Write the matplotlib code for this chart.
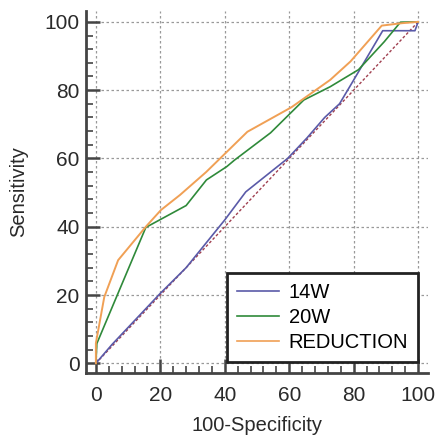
import matplotlib
matplotlib.use("Agg")
import matplotlib.pyplot as plt
from matplotlib.ticker import MultipleLocator

plt.rcParams['font.family'] = ['Liberation Sans', 'DejaVu Sans']

# ROC curves (100-Specificity, Sensitivity)
x_14w = [0, 5, 10, 20, 28, 34, 40, 46.5, 59.5, 65.5, 71, 75.6, 79.7, 89, 99, 100]
y_14w = [0, 5.5, 10.5, 20.5, 28, 35, 42, 50.2, 60, 66, 72, 76, 82.5, 97.4, 97.4, 100]

x_20w = [0, 0.3, 15.5, 28, 34.3, 40.6, 43, 54.2, 64.5, 72.7, 81.5, 89.5, 94.5, 100]
y_20w = [0, 5.8, 39.8, 46.2, 53.7, 57.6, 59.5, 67.5, 77.1, 81, 86, 94.2, 99.9, 100]

x_red = [0, 0, 2.6, 6.9, 15.5, 20.2, 26.1, 34.2, 47, 60.7, 72.7, 79, 88.7, 94.9, 100]
y_red = [0, 5.9, 19.4, 30.2, 40, 44.9, 49.3, 56, 67.8, 75, 83, 88.4, 98.9, 99.6, 100]

diag = [0, 100]

fig = plt.figure(figsize=(4.36, 4.37), dpi=100)
ax = fig.add_axes([0.197, 0.146, 0.785, 0.829])

ax.plot(diag, diag, color='#a04050', lw=1.0, ls=(0, (2, 1.5)))
ax.plot(x_14w, y_14w, color='#5a5aa8', lw=1.2, label='14W')
ax.plot(x_20w, y_20w, color='#2f8a3a', lw=1.2, label='20W')
ax.plot(x_red, y_red, color='#f0a055', lw=1.4, label='REDUCTION')

ax.set_xlim(-3.1, 103.1)
ax.set_ylim(-2.9, 103.2)
ax.xaxis.set_major_locator(MultipleLocator(20))
ax.yaxis.set_major_locator(MultipleLocator(20))
ax.xaxis.set_minor_locator(MultipleLocator(4))
ax.yaxis.set_minor_locator(MultipleLocator(4))
ax.grid(True, which='major', color='#999999', ls=(0, (2, 2)), lw=0.9)
ax.set_axisbelow(True)

for s in ['top', 'right']:
	ax.spines[s].set_visible(False)
for s in ['left', 'bottom']:
	ax.spines[s].set_linewidth(2)
	ax.spines[s].set_color('#444444')

ax.tick_params(which='major', direction='in', length=10, width=1.8, color='#444444',
	labelsize=15, labelcolor='#2a2a2a')
ax.tick_params(axis='x', which='major', pad=9)
ax.tick_params(axis='y', which='major', pad=4.5)
ax.tick_params(which='minor', direction='in', length=5, width=1.2, color='#444444')

ax.set_xlabel('100-Specificity', fontsize=14.5, color='#2a2a2a', labelpad=8)
ax.set_ylabel('Sensitivity', fontsize=14.5, color='#2a2a2a', labelpad=12)

leg = ax.legend(loc='lower right', bbox_to_anchor=(0.971, 0.030), borderaxespad=0,
	fontsize=14.5, fancybox=False, framealpha=1, edgecolor='#222222',
	handlelength=2.05, handletextpad=0.5, labelspacing=0.3, borderpad=0.5)
leg.get_frame().set_linewidth(2)
for line in leg.get_lines():
	line.set_linewidth(1.2)

fig.savefig('out.png', dpi=100)
